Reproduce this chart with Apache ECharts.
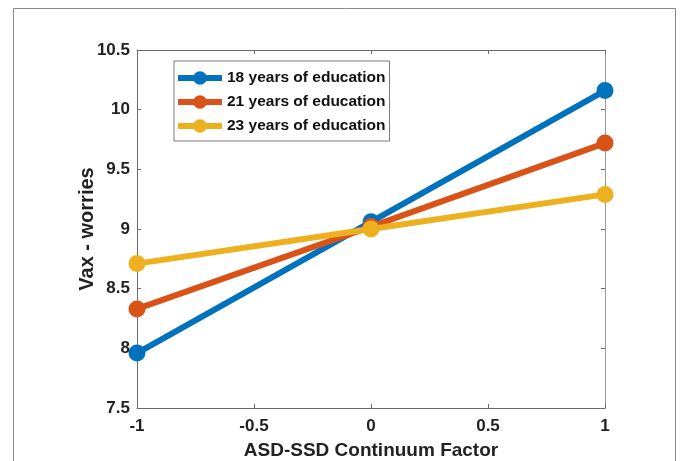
<!DOCTYPE html>
<html><head><meta charset="utf-8">
<script src="https://cdn.jsdelivr.net/npm/echarts@6/dist/echarts.min.js"></script>
<style>html,body{margin:0;padding:0;background:#fff}#c{width:681px;height:461px}</style>
</head><body><div id="c"></div>
<script>
const xValues = [-1, 0, 1];
const seriesNames = ['18 years of education', '21 years of education', '23 years of education'];
const edu18 = [7.96, 9.06, 10.16];
const edu21 = [8.33, 9.02, 9.72];
const edu23 = [8.71, 9.00, 9.29];
const colors = ['#0072BD', '#D95319', '#EDB120'];
const allSeries = [edu18, edu21, edu23];

const font = 'Liberation Sans, Arial, Helvetica, sans-serif';
const axisColor = '#6b6b6b';
const chart = echarts.init(document.getElementById('c'), null, {renderer: 'canvas'});
chart.setOption({
  animation: false,
  backgroundColor: '#fff',
  graphic: [
    {type: 'rect', shape: {x: 13.5, y: 8.5, width: 662, height: 470}, style: {fill: 'none', stroke: '#8a8a8a', lineWidth: 1}, z: -1}
  ],
  grid: {left: 137, top: 50, width: 468, height: 358, containLabel: false, outerBoundsMode: 'none'},
  legend: {
    orient: 'vertical', left: 174, top: 61, width: 215,
    padding: [9, 4, 7, 1], itemGap: 8, itemWidth: 44, itemHeight: 17,
    borderColor: '#7a7a7a', borderWidth: 1, backgroundColor: '#fff',
    lineStyle: {width: 6},
    textStyle: {fontFamily: font, fontWeight: 'bold', fontSize: 15.5, color: '#111'},
    data: seriesNames
  },
  xAxis: [{
    type: 'value', min: -1, max: 1, interval: 0.5, position: 'bottom',
    name: 'ASD-SSD Continuum Factor', nameLocation: 'middle', nameGap: 33, nameMoveOverlap: false,
    nameTextStyle: {fontFamily: font, fontWeight: 'bold', fontSize: 19, color: '#222'},
    axisLine: {show: true, onZero: false, lineStyle: {color: axisColor}},
    axisTick: {show: true, inside: true, length: 4, lineStyle: {color: axisColor}},
    axisLabel: {fontFamily: font, fontWeight: 'bold', fontSize: 17, color: '#222', margin: 10,
      formatter: v => String(v)},
    splitLine: {show: false}
  }, {
    type: 'value', min: -1, max: 1, interval: 0.5, position: 'top',
    axisLine: {show: true, onZero: false, lineStyle: {color: axisColor}},
    axisTick: {show: true, inside: true, length: 4, lineStyle: {color: axisColor}},
    axisLabel: {show: false}, splitLine: {show: false}
  }],
  yAxis: [{
    type: 'value', min: 7.5, max: 10.5, interval: 0.5, position: 'left',
    name: 'Vax - worries', nameLocation: 'middle', nameGap: 40, nameRotate: 90, nameMoveOverlap: false,
    nameTextStyle: {fontFamily: font, fontWeight: 'bold', fontSize: 20, color: '#222'},
    axisLine: {show: true, onZero: false, lineStyle: {color: axisColor}},
    axisTick: {show: true, inside: true, length: 4, lineStyle: {color: axisColor}},
    axisLabel: {fontFamily: font, fontWeight: 'bold', fontSize: 17, color: '#222', margin: 7,
      formatter: v => String(v)},
    splitLine: {show: false}
  }, {
    type: 'value', min: 7.5, max: 10.5, interval: 0.5, position: 'right',
    axisLine: {show: true, onZero: false, lineStyle: {color: '#9a9a9a'}},
    axisTick: {show: true, inside: true, length: 4, lineStyle: {color: axisColor}},
    axisLabel: {show: false}, splitLine: {show: false}
  }],
  series: allSeries.map((vals, i) => ({
    name: seriesNames[i], type: 'line',
    data: xValues.map((x, j) => [x, vals[j]]),
    symbol: 'circle', symbolSize: 17,
    lineStyle: {width: 6, color: colors[i]},
    itemStyle: {color: colors[i]},
    z: 10 + i
  }))
});
</script></body></html>
